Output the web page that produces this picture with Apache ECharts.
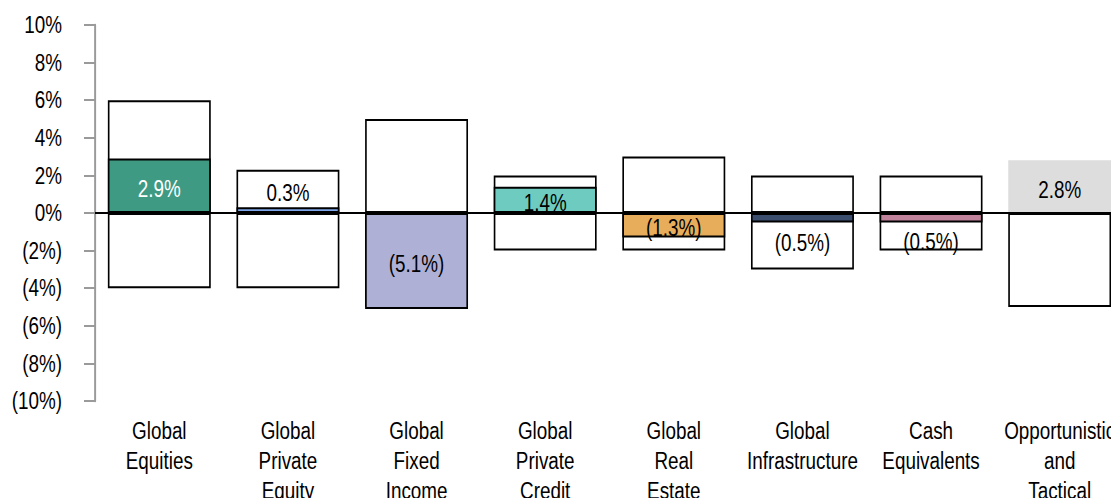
<!DOCTYPE html>
<html>
<head>
<meta charset="utf-8">
<script src="https://cdn.jsdelivr.net/npm/echarts@6/dist/echarts.min.js"></script>
<style>
html,body{margin:0;padding:0;background:#fff;overflow:hidden;width:1111px;height:498px;}
#main{width:1355px;height:498px;transform:scaleX(0.82);transform-origin:0 0;}
</style>
</head>
<body>
<div id="main"></div>
<script>
var categories = ['Global\nEquities','Global\nPrivate\nEquity','Global\nFixed\nIncome','Global\nPrivate\nCredit','Global\nReal\nEstate','Global\nInfrastructure','Cash\nEquivalents','Opportunistic\nand\nTactical'];
var rangeMax = [6, 2.3, 5, 2, 3, 2, 2, 0];
var rangeMin = [-4, -4, -5, -2, -2, -3, -2, -5];
var actual = [2.9, 0.3, -5.1, 1.4, -1.3, -0.5, -0.5, 2.8];
var actualColors = ['#3E9A83','#7EA6E8','#AFB0D6','#6ECBBF','#E8AD5B','#3C4E6E','#C1839C','#DDDDDD'];

var FONT = '"Liberation Sans",Arial,sans-serif';
var SX = 0.82; // horizontal squeeze applied to the container (narrow type)
function pct(v){
  var s = Math.abs(v).toFixed(1) + '%';
  return v < 0 ? '(' + s + ')' : s;
}
function tickPct(v){
  return v < 0 ? '(' + Math.abs(v) + '%)' : v + '%';
}

var labelShift = {1: -20, 5: 22, 6: 21};
var actualData = actual.map(function(v, i){
  var noBorder = (i === actual.length - 1);
  return {
    value: v,
    itemStyle: {
      color: actualColors[i],
      borderColor: noBorder ? 'rgba(0,0,0,0)' : '#000',
      borderWidth: noBorder ? 0 : 2
    },
    label: {
      show: true,
      position: 'inside',
      formatter: pct(v),
      color: i === 0 ? '#fff' : '#000',
      offset: [0, 3 + (labelShift[i] || 0)]
    }
  };
});

var boxStyle = {color: '#fff', borderColor: '#000', borderWidth: 2};

var chart = echarts.init(document.getElementById('main'), null, {renderer: 'svg'});
chart.setOption({
  animation: false,
  backgroundColor: '#fff',
  textStyle: {fontFamily: FONT},
  grid: {left: 95 / SX, top: 25, height: 376, width: 1029 / SX, containLabel: false, outerBoundsMode: 'none'},
  xAxis: {
    type: 'category',
    data: categories,
    axisLine: {show: false, onZero: false},
    axisTick: {show: false},
    axisLabel: {
      interval: 0,
      margin: 15,
      fontFamily: FONT,
      fontSize: 23,
      lineHeight: 30,
      color: '#000',
      hideOverlap: false
    },
    splitLine: {show: false}
  },
  yAxis: {
    type: 'value',
    min: -10, max: 10, interval: 2,
    axisLine: {show: true, lineStyle: {color: '#9a9a9a', width: 2.4}},
    axisTick: {show: true, inside: false, length: 11 / SX, lineStyle: {color: '#9a9a9a', width: 2}},
    axisLabel: {formatter: tickPct, fontFamily: FONT, fontSize: 23, color: '#000', margin: 33 / SX},
    splitLine: {show: false}
  },
  series: [
    {
      name: 'High', type: 'bar', data: rangeMax,
      barGap: '-100%', barCategoryGap: '20%',
      itemStyle: boxStyle, silent: true, z: 2
    },
    {
      name: 'Low', type: 'bar', data: rangeMin,
      barGap: '-100%', barCategoryGap: '20%',
      itemStyle: boxStyle, silent: true, z: 2
    },
    {
      name: 'Actual', type: 'bar', data: actualData,
      barGap: '-100%', barCategoryGap: '20%',
      label: {show: true, fontFamily: FONT, fontSize: 23},
      z: 3,
      markLine: {
        silent: true,
        symbol: ['none','none'],
        label: {show: false},
        lineStyle: {color: '#000', width: 2, type: 'solid'},
        data: [{yAxis: 0}],
        z: 4
      }
    }
  ]
});
</script>
</body>
</html>
